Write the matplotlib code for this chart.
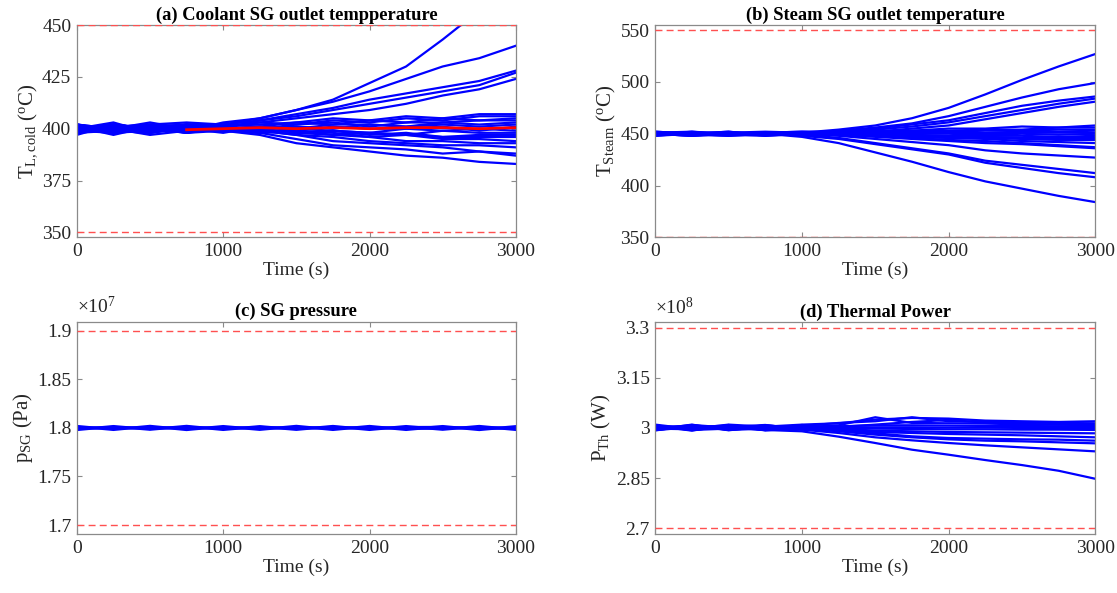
import matplotlib
matplotlib.use('Agg')
import matplotlib.pyplot as plt
from matplotlib.ticker import FormatStrFormatter

plt.rcParams['font.family'] = ['Liberation Serif', 'DejaVu Serif']
plt.rcParams['mathtext.fontset'] = 'custom'
plt.rcParams['mathtext.rm'] = 'Liberation Serif'
plt.rcParams['mathtext.it'] = 'Liberation Serif:italic'
plt.rcParams['mathtext.bf'] = 'Liberation Serif:bold'

# time grid (s) used for all read-off traces
time_s = [0, 250, 500, 750, 1000, 1250, 1500, 1750, 2000, 2250, 2500, 2750, 3000]

# (a) coolant SG outlet temperature (degC)
coolant_runs = [
    [400, 403, 398, 402, 402, 405, 409, 414, 422, 430, 443, 457, 471],
    [398, 401, 402, 399, 403, 405, 409, 413, 418, 424, 430, 434, 440],
    [402, 398, 401, 402, 400, 404, 407, 410, 414, 417, 420, 423, 428],
    [398, 402, 400, 398, 402, 404, 406, 409, 412, 415, 418, 421, 427],
    [401, 399, 398, 401, 401, 403, 405, 407, 409, 412, 416, 419, 424],
    [402, 400, 402, 403, 402, 402, 403, 405, 404, 406, 405, 407, 407],
    [399, 402, 400, 399, 401, 403, 402, 404, 403, 405, 404, 406, 406],
    [401, 397, 401, 402, 400, 401, 403, 402, 404, 403, 405, 404, 405],
    [398, 401, 399, 402, 401, 400, 402, 403, 401, 403, 403, 404, 404],
    [400, 402, 398, 400, 402, 401, 400, 402, 402, 401, 403, 402, 403],
    [402, 399, 401, 398, 399, 400, 401, 400, 402, 401, 402, 401, 402],
    [399, 400, 403, 400, 398, 401, 399, 401, 400, 400, 401, 399, 401],
    [397, 402, 400, 401, 400, 398, 400, 399, 398, 400, 399, 400, 399],
    [401, 398, 399, 402, 401, 399, 398, 399, 398, 397, 399, 398, 398],
    [402, 400, 397, 399, 399, 398, 399, 397, 398, 397, 396, 397, 397],
    [400, 401, 401, 398, 400, 400, 398, 399, 397, 398, 396, 396, 396],
    [399, 398, 401, 400, 399, 397, 393, 391, 389, 387, 386, 384, 383],
    [401, 400, 399, 401, 400, 398, 395, 392, 391, 390, 388, 389, 387],
    [400, 402, 400, 399, 401, 399, 397, 394, 393, 392, 391, 389, 388],
    [402, 399, 398, 401, 401, 399, 397, 396, 394, 393, 392, 392, 391],
    [398, 399, 402, 400, 399, 400, 398, 397, 396, 394, 394, 393, 393],
    [399, 401, 400, 398, 401, 398, 399, 398, 396, 397, 395, 395, 394],
]
ref_time_s = [750, 1000, 1250, 1500, 1750, 2000, 2250, 2500, 2750, 3000]
coolant_ref = [399.5, 400, 400.5, 400, 400.5, 400, 400.5, 400.5, 400, 400.5]
coolant_limits = [350, 450]

# (b) steam SG outlet temperature (degC)
steam_runs = [
    [450, 448, 451, 449, 451, 454, 458, 465, 475, 488, 502, 515, 527],
    [451, 452, 449, 451, 450, 453, 456, 460, 467, 476, 485, 493, 499],
    [449, 450, 452, 448, 450, 452, 455, 459, 463, 470, 477, 482, 486],
    [448, 451, 450, 451, 452, 452, 454, 457, 461, 467, 473, 479, 484],
    [451, 449, 448, 450, 449, 451, 452, 455, 458, 464, 470, 476, 481],
    [452, 450, 451, 452, 451, 452, 453, 453, 455, 455, 457, 456, 458],
    [450, 448, 450, 451, 452, 451, 452, 453, 453, 454, 454, 456, 456],
    [451, 451, 449, 450, 450, 451, 451, 452, 452, 453, 453, 454, 454],
    [449, 452, 450, 449, 450, 450, 451, 451, 452, 451, 452, 452, 453],
    [448, 450, 451, 450, 449, 450, 450, 451, 451, 450, 451, 451, 451],
    [450, 451, 449, 448, 450, 450, 450, 450, 450, 449, 450, 449, 450],
    [451, 449, 449, 450, 450, 449, 449, 449, 448, 448, 448, 447, 448],
    [450, 449, 451, 451, 449, 450, 449, 448, 447, 447, 446, 446, 446],
    [449, 450, 452, 449, 450, 449, 448, 447, 446, 446, 445, 444, 444],
    [450, 448, 450, 450, 451, 449, 448, 447, 446, 445, 443, 442, 441],
    [451, 450, 449, 450, 447, 441, 432, 423, 413, 404, 397, 390, 384],
    [450, 449, 450, 451, 448, 445, 440, 435, 430, 422, 417, 412, 408],
    [449, 451, 450, 449, 449, 446, 441, 436, 431, 424, 420, 416, 412],
    [450, 450, 448, 450, 450, 448, 445, 442, 439, 434, 431, 429, 427],
    [452, 450, 450, 451, 450, 449, 447, 445, 443, 441, 440, 438, 436],
    [450, 451, 451, 450, 449, 449, 448, 446, 444, 443, 441, 439, 437],
]
steam_limits = [350, 550]

# (c) SG pressure (x1e7 Pa)
pressure_runs = [
    [1.7981, 1.8016, 1.7984, 1.8018, 1.7982, 1.8015, 1.7983, 1.8017, 1.7982, 1.8016, 1.7984, 1.8017, 1.7982],
    [1.8017, 1.7982, 1.8018, 1.7981, 1.8016, 1.7983, 1.8018, 1.7982, 1.8017, 1.7982, 1.8016, 1.7981, 1.8015],
    [1.7993, 1.8007, 1.7992, 1.8008, 1.7993, 1.8007, 1.7994, 1.8008, 1.7993, 1.8006, 1.8007, 1.7993, 1.8000],
    [1.8005, 1.7995, 1.8006, 1.7994, 1.8005, 1.7995, 1.8004, 1.7995, 1.8006, 1.7994, 1.7995, 1.8006, 1.7996],
]
pressure_limits = [1.7, 1.9]

# (d) thermal power (x1e8 W)
power_runs = [
    [3.008, 2.993, 3.006, 2.994, 2.990, 2.974, 2.955, 2.935, 2.920, 2.904, 2.889, 2.872, 2.848],
    [2.993, 3.008, 2.995, 3.007, 2.995, 2.985, 2.972, 2.963, 2.955, 2.948, 2.942, 2.936, 2.930],
    [3.006, 2.992, 3.009, 2.993, 2.998, 2.990, 2.980, 2.972, 2.966, 2.962, 2.960, 2.957, 2.954],
    [2.995, 3.010, 2.993, 3.005, 3.002, 2.993, 2.984, 2.975, 2.970, 2.968, 2.966, 2.965, 2.962],
    [3.010, 2.997, 3.003, 3.009, 2.996, 2.995, 2.988, 2.985, 2.982, 2.980, 2.978, 2.975, 2.972],
    [2.994, 3.005, 2.994, 2.998, 3.009, 2.998, 2.992, 2.990, 2.988, 2.987, 2.986, 2.985, 2.984],
    [3.004, 2.998, 3.010, 3.004, 3.010, 3.014, 3.025, 3.030, 3.028, 3.022, 3.020, 3.018, 3.020],
    [2.997, 3.009, 3.001, 2.994, 3.006, 3.015, 3.020, 3.032, 3.020, 3.018, 3.016, 3.015, 3.014],
    [3.007, 2.994, 2.998, 3.007, 3.002, 3.008, 3.032, 3.015, 3.014, 3.013, 3.011, 3.010, 3.009],
    [2.993, 3.003, 3.007, 2.997, 3.004, 3.005, 3.008, 3.008, 3.007, 3.006, 3.006, 3.005, 3.004],
    [3.003, 3.006, 2.995, 3.001, 2.996, 3.002, 3.002, 3.002, 3.001, 3.001, 3.000, 3.000, 3.000],
    [2.998, 2.996, 3.004, 2.993, 3.001, 3.000, 2.998, 2.997, 2.996, 2.996, 2.995, 2.995, 2.994],
    [3.005, 3.001, 2.997, 3.008, 2.999, 3.003, 3.010, 3.018, 3.024, 3.016, 3.012, 3.010, 3.008],
]
power_limits = [2.7, 3.3]

TXT = '#262626'
SPINE = '#8a8a8a'
LIMIT_RED = '#ff5050'
BLUE = '#0000ff'

fig = plt.figure(figsize=(11.17, 5.93), dpi=100)
ax_a = fig.add_axes([0.0688, 0.5998, 0.3930, 0.3580])
ax_b = fig.add_axes([0.5866, 0.5998, 0.3940, 0.3580])
ax_c = fig.add_axes([0.0688, 0.0990, 0.3930, 0.3585])
ax_d = fig.add_axes([0.5866, 0.0990, 0.3940, 0.3575])


def style_axis(ax, title, ylabel, ylim, yticks, fmt):
    ax.set_xlim(0, 3000)
    ax.set_ylim(*ylim)
    ax.set_xticks([0, 1000, 2000, 3000])
    ax.set_yticks(yticks)
    ax.yaxis.set_major_formatter(FormatStrFormatter(fmt))
    ax.tick_params(direction='in', length=3.5, width=0.8, top=True, right=True,
                   labelsize=14, colors=SPINE, labelcolor=TXT, pad=4)
    for sp in ax.spines.values():
        sp.set_color(SPINE)
        sp.set_linewidth(0.9)
    ax.set_title(title, fontsize=13.3, fontweight='bold', color='black', pad=4)
    ax.set_xlabel('Time (s)', fontsize=14, color=TXT, labelpad=1)
    ax.set_ylabel(ylabel, fontsize=15, color=TXT, labelpad=2)


# (a) - red reference drawn over the blue runs
for run in coolant_runs:
    ax_a.plot(time_s, run, color=BLUE, lw=1.6, zorder=2)
ax_a.plot(ref_time_s, coolant_ref, color='red', lw=2.0, zorder=3)
for lim in coolant_limits:
    ax_a.axhline(lim, color=LIMIT_RED, ls=(0, (5, 3)), lw=1.0, zorder=3)
style_axis(ax_a, '(a) Coolant SG outlet tempperature',
           r'T$_{\mathrm{L,cold}}$ ($^{\mathrm{o}}$C)',
           (347.6, 450), [350, 375, 400, 425, 450], '%g')

# (b)
for run in steam_runs:
    ax_b.plot(time_s, run, color=BLUE, lw=1.6, zorder=2)
for lim in steam_limits:
    ax_b.axhline(lim, color=LIMIT_RED, ls=(0, (5, 3)), lw=1.0, zorder=3)
style_axis(ax_b, '(b) Steam SG outlet temperature',
           r'T$_{\mathrm{Steam}}$ ($^{\mathrm{o}}$C)',
           (350, 555), [350, 400, 450, 500, 550], '%g')

# (c)
for run in pressure_runs:
    ax_c.plot(time_s, run, color=BLUE, lw=2.0, zorder=2)
for lim in pressure_limits:
    ax_c.axhline(lim, color=LIMIT_RED, ls=(0, (5, 3)), lw=1.0, zorder=3)
style_axis(ax_c, '(c) SG pressure', r'p$_{\mathrm{SG}}$ (Pa)',
           (1.6905, 1.9093), [1.7, 1.75, 1.8, 1.85, 1.9], '%g')
ax_c.text(0.0, 1.02, r'$\times 10^{7}$', transform=ax_c.transAxes,
          fontsize=14, color=TXT, ha='left', va='bottom')

# (d)
for run in power_runs:
    ax_d.plot(time_s, run, color=BLUE, lw=1.6, zorder=2)
for lim in power_limits:
    ax_d.axhline(lim, color=LIMIT_RED, ls=(0, (5, 3)), lw=1.0, zorder=3)
style_axis(ax_d, '(d) Thermal Power', r'P$_{\mathrm{Th}}$ (W)',
           (2.682, 3.316), [2.7, 2.85, 3.0, 3.15, 3.3], '%g')
ax_d.text(0.0, 1.02, r'$\times 10^{8}$', transform=ax_d.transAxes,
          fontsize=14, color=TXT, ha='left', va='bottom')

fig.savefig('out.png', dpi=100)
